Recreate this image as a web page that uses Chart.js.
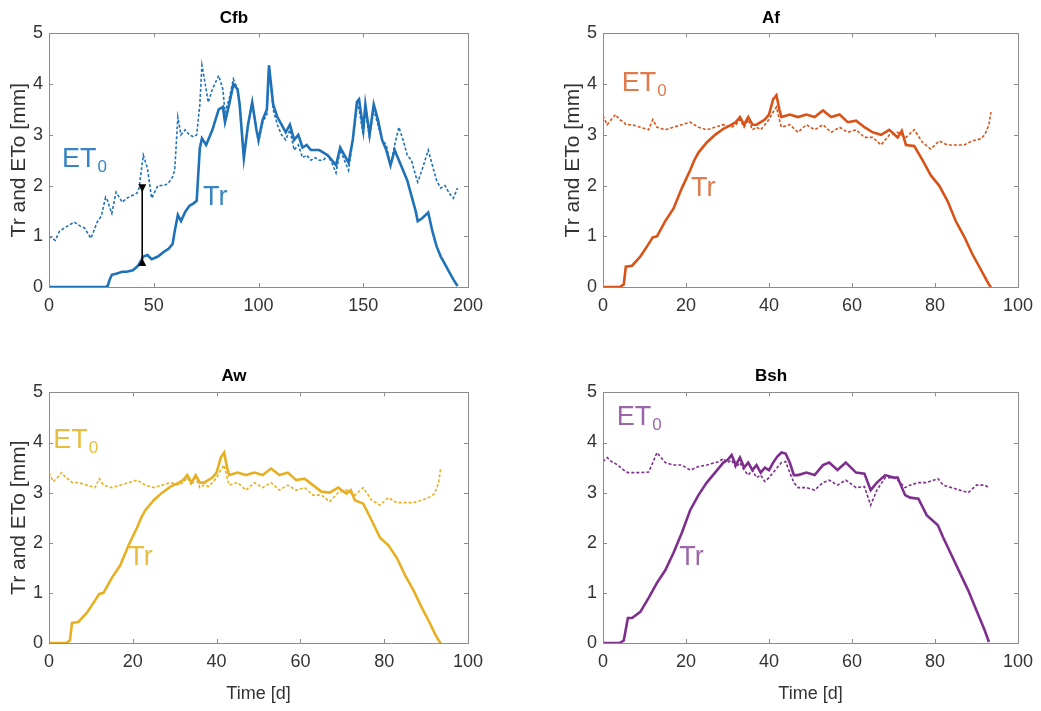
<!DOCTYPE html>
<html>
<head>
<meta charset="utf-8">
<script src="https://cdn.jsdelivr.net/npm/chart.js@4.4.1/dist/chart.umd.min.js"></script>
<style>
  body { margin: 0; background: #fff; width: 1041px; height: 711px; overflow: hidden; position: relative; }
  canvas { position: absolute; }
</style>
</head>
<body>
<canvas id="cCfb" width="520" height="340" style="left:0;top:0"></canvas>
<canvas id="cAf" width="521" height="340" style="left:520px;top:0"></canvas>
<canvas id="cAw" width="520" height="371" style="left:0;top:340px"></canvas>
<canvas id="cBsh" width="521" height="371" style="left:520px;top:340px"></canvas>
<script>
// ---- data ----
const yTicks = [0, 1, 2, 3, 4, 5];

// Cfb (days 0-195)
const cfbDays = [0,3,5,8,12,15,17,20,23,25,27,28,29,30,32,35,37,40,42,43,45,47,49,52,55,57,59,60,61.5,63,65,67,69,70.5,72,73,75,76,78,81,83,84,86,88,90,91,93,95,97,99,100,102,104,105,107,109,111,113,115,117,119,121,123,125,127,129,131,133,135,137,139,141,143,145,147,148,150,151,153,155,157,159,161,163,165,167,169,171,173,175,176,178,181,183,185,187,189,191,193,195];
const cfbEt0 = [1.0,0.92,1.1,1.18,1.28,1.2,1.16,0.96,1.28,1.4,1.77,1.7,1.56,1.45,1.87,1.67,1.75,1.81,1.85,1.95,2.6,2.34,1.75,2.0,2.0,2.05,2.17,2.3,3.35,3.0,3.1,3.0,2.96,3.0,3.6,4.37,3.9,3.64,3.9,4.17,3.9,3.44,3.7,4.1,3.9,3.6,2.6,3.2,3.64,3.1,2.85,3.25,3.4,4.37,3.5,3.2,3.0,2.9,3.1,2.7,2.8,2.55,2.6,2.5,2.55,2.5,2.5,2.6,2.45,2.25,2.7,2.5,2.3,2.9,3.6,3.5,3.0,3.5,2.95,3.5,3.2,2.9,2.8,2.4,2.8,3.15,2.9,2.6,2.5,2.2,2.07,2.3,2.7,2.4,2.1,1.95,2.0,1.85,1.75,1.95];
const cfbTr = [0,0,0,0,0,0,0,0,0,0,0,0.02,0.15,0.24,0.26,0.3,0.3,0.33,0.4,0.45,0.6,0.63,0.55,0.6,0.7,0.75,0.85,1.1,1.42,1.3,1.48,1.6,1.65,1.7,2.74,2.93,2.8,2.9,3.1,3.5,3.55,3.25,3.6,4.0,3.9,3.6,2.54,3.2,3.64,3.1,2.9,3.3,3.5,4.37,3.6,3.35,3.2,3.05,3.2,2.9,3.0,2.75,2.8,2.7,2.7,2.7,2.65,2.6,2.5,2.4,2.75,2.6,2.45,2.9,3.65,3.7,3.1,3.6,3.0,3.6,3.3,2.9,2.7,2.4,2.7,2.5,2.3,2.1,1.8,1.5,1.3,1.35,1.47,1.1,0.8,0.6,0.45,0.3,0.15,0.02];

// Af (days 0-93.5)
const afDays = [0,1,2,3,4,5,5.5,7,9,11,12,13,15,17,19,21,22,23,25,27,29,31,32,33,34,35,36,37,38,39,40,41,41.8,42.5,43,45,47,49,51,53,55,57,59,61,63,65,67,69,71,72,73,75,77,79,81,83,85,87,89,91,92,93,93.5];
const afEt0 = [3.38,3.2,3.3,3.4,3.3,3.25,3.2,3.2,3.15,3.1,3.3,3.15,3.1,3.15,3.2,3.25,3.2,3.15,3.1,3.15,3.2,3.15,3.2,3.3,3.15,3.3,3.1,3.15,3.1,3.2,3.3,3.45,3.55,3.3,3.15,3.2,3.05,3.2,3.1,3.2,3.05,3.15,3.05,3.1,2.95,2.95,2.8,3.0,3.05,3.0,2.95,3.1,2.85,2.72,2.88,2.8,2.8,2.8,2.88,2.92,3.0,3.2,3.45];
const afTr = [0,0,0,0,0,0.05,0.4,0.42,0.6,0.85,0.98,1.0,1.3,1.55,1.95,2.3,2.5,2.65,2.85,3.0,3.12,3.2,3.25,3.35,3.2,3.35,3.2,3.2,3.25,3.3,3.4,3.7,3.78,3.5,3.35,3.4,3.35,3.4,3.35,3.48,3.35,3.4,3.25,3.28,3.15,3.05,3.0,3.1,2.95,3.08,2.8,2.78,2.5,2.2,2.0,1.7,1.3,1.0,0.65,0.35,0.2,0.05,0];

// Aw (days 0-93.5)
const awDays = [0,1,2,3,4,5,5.5,7,9,11,12,13,15,17,19,21,22,23,25,27,29,31,32,33,34,35,36,37,38,39,40,41,41.8,42.5,43,45,47,49,51,53,55,57,59,61,63,65,67,69,71,72,73,75,77,79,81,83,85,87,89,91,92,93,93.5];
const awEt0 = [3.4,3.22,3.3,3.4,3.3,3.25,3.2,3.2,3.15,3.1,3.28,3.15,3.1,3.15,3.2,3.25,3.2,3.15,3.1,3.15,3.2,3.15,3.2,3.3,3.15,3.3,3.1,3.15,3.12,3.2,3.3,3.45,3.55,3.3,3.15,3.2,3.05,3.2,3.1,3.2,3.05,3.15,3.05,3.1,2.95,2.95,2.82,3.0,3.05,3.0,2.95,3.1,2.85,2.75,2.9,2.8,2.8,2.8,2.85,2.92,2.98,3.2,3.5];
const awTr = [0,0,0,0,0,0.05,0.4,0.42,0.6,0.85,0.98,1.0,1.3,1.55,1.95,2.3,2.5,2.65,2.85,3.0,3.12,3.2,3.25,3.35,3.2,3.35,3.2,3.2,3.25,3.3,3.4,3.7,3.8,3.5,3.35,3.4,3.35,3.4,3.35,3.48,3.35,3.4,3.25,3.28,3.15,3.02,3.0,3.1,2.98,3.05,2.85,2.78,2.45,2.1,1.95,1.7,1.35,1.05,0.7,0.38,0.2,0.05,0];

// Bsh (days 0-93)
const bshDays = [0,1,2,3,4,5,6,7,9,11,12,13,15,17,19,21,23,25,27,28,29,30,31,32,33,34,35,36,37,38,39,40,41,42,43,44,45,46,47,49,51,53,54.5,56.5,58.5,61,63,64.5,66,68,70,71,72.8,74,76,78,80.7,82,84,86,88,90,92,93];
const bshEt0 = [3.62,3.7,3.62,3.58,3.52,3.45,3.4,3.4,3.4,3.41,3.6,3.8,3.6,3.55,3.55,3.45,3.52,3.55,3.6,3.62,3.68,3.6,3.65,3.5,3.6,3.45,3.35,3.45,3.3,3.35,3.22,3.3,3.4,3.5,3.6,3.62,3.4,3.2,3.1,3.1,3.05,3.2,3.25,3.15,3.25,3.1,3.12,2.75,3.05,3.3,3.3,3.25,3.1,3.15,3.2,3.2,3.28,3.15,3.1,3.05,3.0,3.15,3.15,3.1];
const bshTr = [0,0,0,0,0,0.05,0.5,0.5,0.62,0.9,1.05,1.2,1.45,1.8,2.2,2.65,2.95,3.2,3.4,3.5,3.6,3.65,3.75,3.55,3.7,3.5,3.6,3.45,3.55,3.4,3.5,3.45,3.6,3.72,3.8,3.78,3.6,3.35,3.35,3.4,3.35,3.55,3.6,3.45,3.6,3.4,3.38,3.05,3.2,3.35,3.3,3.3,2.95,2.9,2.88,2.55,2.35,2.1,1.75,1.4,1.05,0.65,0.25,0.02];

const FONT = "'Liberation Sans', Arial, Helvetica, sans-serif";
Chart.defaults.font.family = FONT;

function pts(days, vals) {
    return days.map((d, i) => ({x: d, y: vals[i]}));
}

// MATLAB style box with inward ticks on all four sides
const boxPlugin = {
    id: 'matlabBox',
    afterDatasetsDraw(chart) {
        const {ctx, chartArea: a, scales} = chart;
        const x = scales.x, y = scales.y;
        ctx.save();
        ctx.strokeStyle = '#8c8c8c';
        ctx.lineWidth = 1;
        ctx.strokeRect(Math.round(a.left) + 0.5, Math.round(a.top) + 0.5, Math.round(a.right - a.left), Math.round(a.bottom - a.top));
        ctx.beginPath();
        x.ticks.forEach(t => {
            const px = Math.round(x.getPixelForValue(t.value)) + 0.5;
            ctx.moveTo(px, a.bottom); ctx.lineTo(px, a.bottom - 4);
            ctx.moveTo(px, a.top); ctx.lineTo(px, a.top + 4);
        });
        y.ticks.forEach(t => {
            const py = Math.round(y.getPixelForValue(t.value)) + 0.5;
            ctx.moveTo(a.left, py); ctx.lineTo(a.left + 4, py);
            ctx.moveTo(a.right, py); ctx.lineTo(a.right - 4, py);
        });
        ctx.stroke();
        ctx.restore();
    }
};

function labelPlugin(color, et0At, trAt, arrow) {
    return {
        id: 'inlineLabels',
        afterDatasetsDraw(chart) {
            const {ctx, scales: {x, y}} = chart;
            ctx.save();
            ctx.fillStyle = color;
            ctx.textBaseline = 'alphabetic';
            ctx.textAlign = 'left';
            let px = x.getPixelForValue(et0At[0]), py = y.getPixelForValue(et0At[1]);
            ctx.font = '27px ' + FONT;
            ctx.fillText('ET', px, py);
            const w = ctx.measureText('ET').width;
            ctx.font = '17px ' + FONT;
            ctx.fillText('0', px + w + 1, py + 5);
            ctx.font = '27px ' + FONT;
            ctx.fillText('Tr', x.getPixelForValue(trAt[0]), y.getPixelForValue(trAt[1]));
            if (arrow) {
                const ax = x.getPixelForValue(arrow[0]);
                const y1 = y.getPixelForValue(arrow[1]), y2 = y.getPixelForValue(arrow[2]);
                ctx.strokeStyle = '#000';
                ctx.fillStyle = '#000';
                ctx.lineWidth = 1.6;
                ctx.beginPath(); ctx.moveTo(ax, y1 - 6); ctx.lineTo(ax, y2 + 6); ctx.stroke();
                ctx.beginPath(); ctx.moveTo(ax, y1); ctx.lineTo(ax - 4, y1 - 8); ctx.lineTo(ax + 4, y1 - 8); ctx.closePath(); ctx.fill();
                ctx.beginPath(); ctx.moveTo(ax, y2); ctx.lineTo(ax - 4, y2 + 8); ctx.lineTo(ax + 4, y2 + 8); ctx.closePath(); ctx.fill();
            }
            ctx.restore();
        }
    };
}

function makePanel(id, p) {
    new Chart(document.getElementById(id), {
        type: 'line',
        data: {
            datasets: [
                { label: 'ET0', data: pts(p.days, p.et0), borderColor: p.color, borderWidth: 1.6, borderDash: [3, 2], pointRadius: 0, tension: 0, fill: false },
                { label: 'Tr', data: pts(p.days, p.tr), borderColor: p.color, borderWidth: 2.6, pointRadius: 0, tension: 0, fill: false }
            ]
        },
        options: {
            responsive: false,
            animation: false,
            layout: { padding: { left: 0, right: p.padRight, top: 0, bottom: 0 } },
            plugins: {
                legend: { display: false },
                tooltip: { enabled: false },
                title: { display: true, text: p.title, color: '#000', font: { size: 17, weight: 'bold' }, padding: { top: p.titleTop, bottom: p.titleBottom } }
            },
            scales: {
                x: {
                    type: 'linear', min: 0, max: p.xMax,
                    ticks: { stepSize: p.xStep, color: '#333', font: { size: 18 }, padding: 8, maxRotation: 0 },
                    grid: { display: false, drawTicks: false },
                    border: { display: false },
                    title: { display: p.xTitle, text: 'Time [d]', color: '#333', font: { size: 18 }, padding: { top: 0, bottom: 6 } },
                    afterFit: s => { s.height = p.xHeight; }
                },
                y: {
                    min: 0, max: 5,
                    afterBuildTicks: s => { s.ticks = yTicks.map(v => ({value: v})); },
                    ticks: { color: '#333', font: { size: 18 }, padding: 6 },
                    grid: { display: false, drawTicks: false },
                    border: { display: false },
                    title: { display: p.yTitle, text: 'Tr and ETo [mm]', color: '#333', font: { size: 21 }, padding: { top: p.yTitlePad, bottom: 0 } },
                    afterFit: s => { s.width = p.yWidth; }
                }
            }
        },
        plugins: [boxPlugin, labelPlugin(p.labelColor, p.et0At, p.trAt, p.arrow)]
    });
}

makePanel('cCfb', { title: 'Cfb', days: cfbDays, et0: cfbEt0, tr: cfbTr, color: '#1f72b8', labelColor: '#3a84c6',
    xMax: 200, xStep: 50, xTitle: false, yTitle: true, yWidth: 49, yTitlePad: 7, padRight: 52,
    titleTop: 8, titleBottom: 5, xHeight: 53, et0At: [6.2, 2.36], trAt: [73.5, 1.61], arrow: [44.5, 1.87, 0.57] });
makePanel('cAf', { title: 'Af', days: afDays, et0: afEt0, tr: afTr, color: '#d95319', labelColor: '#e07a4c',
    xMax: 100, xStep: 20, xTitle: false, yTitle: true, yWidth: 83, yTitlePad: 41, padRight: 19,
    titleTop: 8, titleBottom: 5, xHeight: 53, et0At: [4.5, 3.87], trAt: [21.2, 1.8] });
makePanel('cAw', { title: 'Aw', days: awDays, et0: awEt0, tr: awTr, color: '#e6b022', labelColor: '#e8bc3c',
    xMax: 100, xStep: 20, xTitle: true, yTitle: true, yWidth: 49, yTitlePad: 7, padRight: 52,
    titleTop: 26, titleBottom: 6, xHeight: 68, et0At: [1.0, 3.9], trAt: [18.9, 1.55] });
makePanel('cBsh', { title: 'Bsh', days: bshDays, et0: bshEt0, tr: bshTr, color: '#7e2f8e', labelColor: '#9a68a8',
    xMax: 100, xStep: 20, xTitle: true, yTitle: false, yWidth: 83, yTitlePad: 0, padRight: 19,
    titleTop: 26, titleBottom: 6, xHeight: 68, et0At: [3.3, 4.34], trAt: [18.4, 1.55] });
</script>
</body>
</html>
